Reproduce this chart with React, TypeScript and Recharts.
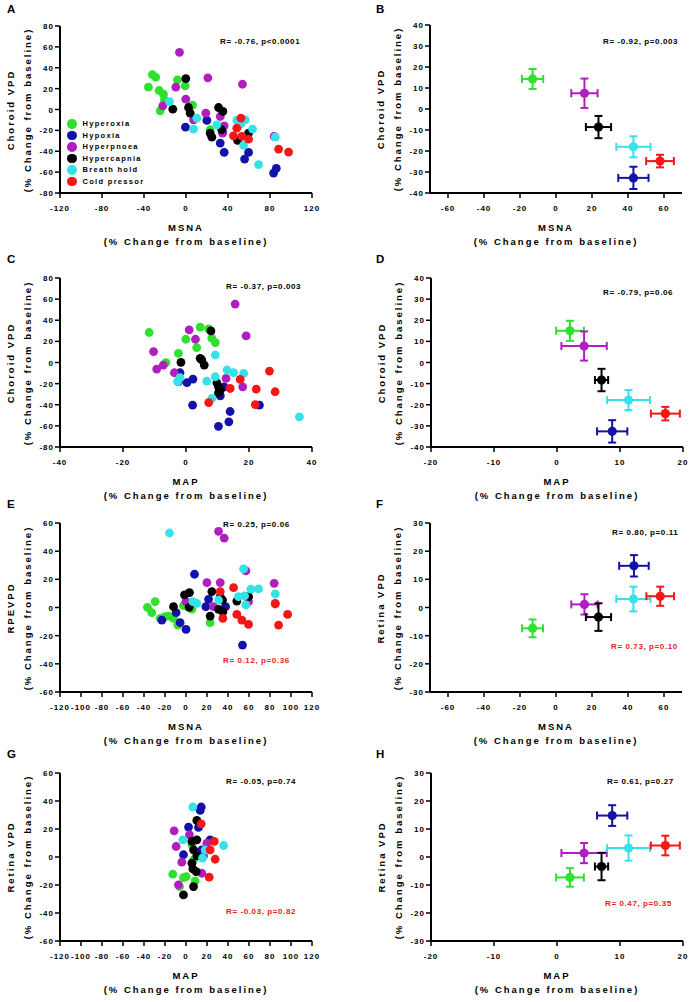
import React from 'react';
import { ScatterChart, Scatter, XAxis, YAxis, ErrorBar, Legend } from 'recharts';

const FONT = "Arial, 'Liberation Sans', sans-serif";

const conditions = ['Hyperoxia', 'Hypoxia', 'Hyperpnoea', 'Hypercapnia', 'Breath hold', 'Cold pressor'];
const colors = ['#2fe02f', '#1212a8', '#b11ec0', '#000000', '#35e2e8', '#f51616'];

// A: MSNA vs choroid VPD (individual)
const hyperoxiaA = [[-35.8, 21.4], [-32, 33.5], [-28.8, 30.9], [-25.6, 18.2], [-21.5, 14.6], [-24.6, -1.3], [-20.5, 9.2], [-8.1, 28.4], [-0.8, 22.6], [6.2, 4.1], [23, -19.4]];
const hypoxiaA = [[-0.5, -16.9], [19.9, -10.5], [35, -22], [32.6, -32.2], [36.4, -41.1], [55.8, -47.5], [59.6, -41.1], [83.4, -60.9], [86, -56.4]];
const hyperpnoeaA = [[-6.2, 54.8], [20.8, 30.3], [53.8, 24.2], [-9.7, 21.4], [-0.2, 9.9], [-22.1, 3.5], [18.9, -3.5], [32.6, -6.7], [34.8, -22.6], [7.2, -9.9], [36.4, -15.6], [84, -25.8]];
const hypercapniaA = [[-0.2, 29.6], [-12.6, 0.3], [2.4, 1.9], [4, -3.5], [31, 1.9], [35.1, -1.9], [34, -19.4], [23, -22.6], [24.6, -26.5], [49.1, -29.6], [59.6, -22.6]];
const breathHoldA = [[-15.7, 7.6], [10.3, -8.3], [7.2, -18.8], [29.4, -14.7], [48.4, -10.5], [56.4, -9.9], [52.3, -13.7], [63.4, -18.8], [54.8, -34.4], [69.1, -52.9], [85, -26.5]];
const coldPressorA = [[52.3, -8.3], [48.4, -17.9], [45.2, -25.2], [53.2, -25.8], [59.6, -28.4], [88.2, -37.9], [97.7, -40.8]];

// C: MAP vs choroid VPD (individual)
const hyperoxiaC = [[-11.7, 28.4], [4.5, 33.4], [7.2, 31.8], [8.2, 23], [9.3, 18.9], [-0.05, 22], [3.4, 14.1], [-2.4, 8.7], [-6.4, -0.2]];
const hypoxiaC = [[-1.9, -9.7], [-2.4, -18.2], [2.2, -15.7], [2.1, -40.4], [10.9, -31.5], [12.1, -23], [14, -46.4], [13.6, -56.2], [10.3, -60.4], [23.3, -40.4], [0.3, -19]];
const hyperpnoeaC = [[15.6, 55.3], [19.1, 25.2], [1, 30.9], [3, 22], [-10.3, 10.3], [-9.3, -6.2], [-7.2, -2.4], [-3.7, -9.7], [12.7, -15.1], [18, -23]];
const hypercapniaC = [[7.9, 29.9], [-1.6, 0.2], [5, 2.4], [5.8, -2.4], [9.8, -19.2], [10.3, -23], [10.3, -28.7], [10.9, -26.1], [4.5, 4]];
const breathHoldC = [[9.3, 7.1], [-2.7, -18.2], [-1.9, -14.4], [6.6, -17.6], [8.2, -34.1], [9.3, -13.5], [13, -7.1], [15.1, -9.7], [18.3, -10.3], [36, -51.5]];
const coldPressorC = [[7.2, -37.9], [14, -24.6], [17.2, -16], [26.5, -8.1], [22.3, -25.2], [28.3, -27.7], [22, -39.8]];

// E: MSNA vs RPEVPD (individual)
const hyperoxiaE = [[-36.7, 0.1], [-29.4, 4.2], [-32.6, -3.7], [-24.6, -7.7], [-19.9, -6.5], [-16.7, -6.1], [-11.9, -7.7], [-7.8, -12.5], [-2.4, 1.3], [5.6, -1.1], [23, -10.8]];
const hypoxiaE = [[8.1, 23.6], [21.5, 5.8], [18.9, 0.6], [32.6, 7.7], [37.7, 0.6], [0, -15.6], [-5.6, -10.8], [-9.4, -3.7], [-23, -8.9], [53.8, -26.7]];
const hyperpnoeaE = [[31, 54.1], [36.4, 49.3], [19.9, 17.7], [32.6, 17.7], [57, 26], [84, 17.2], [85, 3], [59.6, 4.2], [26.2, 0.6], [0, 4.2]];
const hypercapniaE = [[-11.9, 0.6], [-1.4, 8.9], [3.3, 10.6], [3, 0.1], [24.6, 11.3], [23, -6.1], [31, -1.3], [35.1, -3], [34.8, 5.3], [48.4, 4.6], [59.6, 7.7]];
const breathHoldE = [[-15.7, 52.9], [54.8, 27.4], [61.8, 13], [69.1, 13.2], [85, 9.6], [50, 7.7], [55.8, 8.2], [57, 1.8], [10.3, 3], [6.5, 4.2], [31, 5.3]];
const coldPressorE = [[45.3, 14.1], [32.6, 11.3], [35.1, -7.7], [48.4, -4.9], [53.2, -8.9], [59.6, -12], [88.2, -12.5], [96.8, -4.9], [85, 2.5]];

// G: MAP vs retina VPD (individual)
const hyperoxiaG = [[-12.6, -12.3], [-2.4, -14.7], [0.2, -14], [8.7, -17.1], [-6.2, -21.1], [5.6, 8.7], [7.2, -2]];
const hypoxiaG = [[14.5, 35.7], [13.5, 33.3], [2.4, 21.4], [11.9, 21.1], [23, 12.3], [-2.4, 1.6], [15.1, 5.1]];
const hyperpnoeaG = [[-11.3, 18.7], [3.3, 15.9], [-9.4, 7.5], [-4, -3.7], [19.9, 9.9], [16.7, 0.8], [15.1, -11.6], [-7.2, -19.9]];
const hypercapniaG = [[10.3, 26.1], [10.3, 12.3], [5.6, 11.1], [7.2, 5.1], [10.3, 0.8], [5.6, -4.4], [6.5, -8.5], [9.7, -10.4], [7.2, -21.1], [-2.4, -27.1]];
const breathHoldG = [[6.5, 35.7], [-3, 12.3], [35.8, 8.2], [18.3, 5.1], [15.7, -0.8]];
const coldPressorG = [[14.5, 23.7], [26.9, 11.1], [23, 5.1], [27.8, -1.6], [22.1, -14.4]];

// group means +/- SEM, order = conditions
const msnaMeanB = [-13, 43, 15.8, 23.6, 43, 57.8];
const msnaErrB = [5.9, 8.4, 7.3, 7, 9.5, 7.7];
const choroidMeanB = [14.3, -32.8, 7.5, -8.6, -18, -24.8];
const choroidErrB = [4.75, 5.3, 7, 5.3, 5, 3];

const mapMeanD = [2.06, 8.76, 4.3, 7.07, 11.35, 17.2];
const mapErrD = [2.2, 2.4, 3.6, 1.05, 3.4, 2.3];
const choroidMeanD = [15, -32.6, 7.8, -8.3, -17.8, -24.2];
const choroidErrD = [4.75, 5.3, 6.9, 5.3, 4.75, 3.2];

const msnaMeanF = [-13, 43.3, 15.8, 23.6, 43, 57.9];
const msnaErrF = [5.8, 8.2, 7.3, 7, 9.5, 7.7];
const retinaMeanF = [-7.4, 14.8, 1.1, -3.4, 3.0, 4.0];
const retinaErrF = [3.15, 3.8, 3.6, 4.9, 4.4, 3.4];

const mapMeanH = [2.06, 8.76, 4.3, 7.07, 11.35, 17.2];
const mapErrH = [2.2, 2.4, 3.6, 1.05, 3.4, 2.3];
const retinaMeanH = [-7.3, 14.8, 1.4, -3.4, 3.2, 4.1];
const retinaErrH = [3.3, 3.7, 3.6, 4.9, 4.5, 3.5];

const ticksMsnaWide = [-120, -80, -40, 0, 40, 80, 120];
const ticksEvery20 = [-120, -100, -80, -60, -40, -20, 0, 20, 40, 60, 80, 100, 120];
const ticksMsnaMean = [-60, -40, -20, 0, 20, 40, 60];
const ticksMap = [-40, -20, 0, 20, 40];
const ticksMapMean = [-20, -10, 0, 10, 20];
const ticksY80 = [-80, -60, -40, -20, 0, 20, 40, 60, 80];
const ticksY60 = [-60, -40, -20, 0, 20, 40, 60];
const ticksY40 = [-40, -30, -20, -10, 0, 10, 20, 30, 40];
const ticksY30 = [-30, -20, -10, 0, 10, 20, 30];

type Pt = { x: number; y: number; ex?: number; ey?: number };

const pairs = (arr: number[][]): Pt[] => arr.map(([x, y]) => ({ x, y }));
const means = (mx: number[], ex: number[], my: number[], ey: number[]): Pt[][] =>
  mx.map((v, i) => [{ x: v, y: my[i], ex: ex[i], ey: ey[i] }]);

const XTick = (props: any) => (
  <text x={props.x} y={props.y} dy={11} textAnchor="middle" fontSize={8} fontWeight="bold"
    letterSpacing={1} fill="#000" fontFamily={FONT}>{props.payload.value}</text>
);

const YTick = (props: any) => (
  <text x={props.x} y={props.y} dy={3} textAnchor="end" fontSize={8} fontWeight="bold"
    letterSpacing={1} fill="#000" fontFamily={FONT}>{props.payload.value}</text>
);

const renderLegend = (props: any) => {
  const items = [...(props.payload || [])].sort(
    (a: any, b: any) => conditions.indexOf(a.value) - conditions.indexOf(b.value),
  );
  return (
    <div style={{ fontFamily: FONT }}>
      {items.map((entry: any) => (
        <div key={entry.value} style={{ display: 'flex', alignItems: 'center', height: 11.5 }}>
          <span style={{ display: 'inline-block', width: 9.5, height: 9.5, borderRadius: '50%', background: entry.color, marginRight: 6 }} />
          <span style={{ fontSize: 7.5, fontWeight: 'bold', letterSpacing: 1.3, color: '#000' }}>{entry.value}</span>
        </div>
      ))}
    </div>
  );
};

interface PanelProps {
  left: number;
  top: number;
  w: number;
  h: number;
  xDomain: [number, number];
  xTicks: number[];
  yDomain: [number, number];
  yTicks: number[];
  series: Pt[][];
  errors?: boolean;
  legend?: boolean;
}

const Panel = ({ left, top, w, h, xDomain, xTicks, yDomain, yTicks, series, errors, legend }: PanelProps) => (
  <div style={{ position: 'absolute', left: left - 55, top: top - 10 }}>
    <ScatterChart width={w + 70} height={h + 40} margin={{ top: 10, right: 15, bottom: 0, left: 5 }}>
      <XAxis type="number" dataKey="x" domain={xDomain} ticks={xTicks} interval={0} height={30}
        axisLine={{ stroke: '#000', strokeWidth: 2 }} tickLine={{ stroke: '#000', strokeWidth: 1.5 }}
        tickSize={5} tickMargin={2} tick={(p: any) => <XTick {...p} />} />
      <YAxis type="number" dataKey="y" domain={yDomain} ticks={yTicks} interval={0} width={50}
        axisLine={{ stroke: '#000', strokeWidth: 2 }} tickLine={{ stroke: '#000', strokeWidth: 1.5 }}
        tickSize={5} tickMargin={1} tick={(p: any) => <YTick {...p} />} />
      {series.map((pts, i) => (
        <Scatter key={conditions[i]} name={conditions[i]} data={pts} fill={colors[i]} isAnimationActive={false}
          shape={(p: any) => <circle cx={p.cx} cy={p.cy} r={errors ? 4.6 : 4.4} fill={colors[i]} />}>
          {errors && <ErrorBar dataKey="ex" direction="x" width={4} strokeWidth={2} stroke={colors[i]} />}
          {errors && <ErrorBar dataKey="ey" direction="y" width={4} strokeWidth={2} stroke={colors[i]} />}
        </Scatter>
      ))}
      {legend && (
        <Legend layout="vertical" align="center" verticalAlign="middle" content={renderLegend}
          wrapperStyle={{ left: 62, top: 102, width: 120 }} />
      )}
    </ScatterChart>
  </div>
);

const Title = ({ cx, cy, text, rotate }: { cx: number; cy: number; text: string; rotate?: boolean }) => (
  <div style={{
    position: 'absolute', left: cx - 150, top: cy - 7, width: 300, height: 14, lineHeight: '14px',
    textAlign: 'center', fontSize: 9.5, fontWeight: 'bold', letterSpacing: 2, color: '#000',
    fontFamily: FONT, whiteSpace: 'nowrap', transform: rotate ? 'rotate(-90deg)' : undefined,
  }}>{text}</div>
);

const Stat = ({ x, cy, text, red }: { x: number; cy: number; text: string; red?: boolean }) => (
  <div style={{
    position: 'absolute', left: x, top: cy - 5, lineHeight: '10px', fontSize: 8, fontWeight: 'bold',
    letterSpacing: 0.6, color: red ? '#e52222' : '#000', fontFamily: FONT, whiteSpace: 'nowrap',
  }}>{text}</div>
);

const Letter = ({ x, y, text }: { x: number; y: number; text: string }) => (
  <div style={{
    position: 'absolute', left: x, top: y - 2, lineHeight: '12px', fontSize: 11.5, fontWeight: 'bold',
    color: '#000', fontFamily: FONT,
  }}>{text}</div>
);

const Titles = ({ left, top, w, h, xTitle, yTitle }: { left: number; top: number; w: number; h: number; xTitle: string; yTitle: string }) => (
  <>
    <Title cx={left + w / 2} cy={top + h + 35} text={xTitle} />
    <Title cx={left + w / 2} cy={top + h + 49} text="(% Change from baseline)" />
    <Title cx={left - 49} cy={top + h / 2} text={yTitle} rotate />
    <Title cx={left - 32} cy={top + h / 2} text="(% Change from baseline)" rotate />
  </>
);

const seriesA = [hyperoxiaA, hypoxiaA, hyperpnoeaA, hypercapniaA, breathHoldA, coldPressorA].map(pairs);
const seriesC = [hyperoxiaC, hypoxiaC, hyperpnoeaC, hypercapniaC, breathHoldC, coldPressorC].map(pairs);
const seriesE = [hyperoxiaE, hypoxiaE, hyperpnoeaE, hypercapniaE, breathHoldE, coldPressorE].map(pairs);
const seriesG = [hyperoxiaG, hypoxiaG, hyperpnoeaG, hypercapniaG, breathHoldG, coldPressorG].map(pairs);

export default function App() {
  return (
    <div style={{ position: 'absolute', left: 0, top: 0, width: 694, height: 1002, background: '#fff', overflow: 'hidden' }}>
      {/* A */}
      <Panel left={60} top={26} w={252} h={167} xDomain={[-120, 120]} xTicks={ticksMsnaWide}
        yDomain={[-80, 80]} yTicks={ticksY80} series={seriesA} legend />
      <Titles left={60} top={26} w={252} h={167} xTitle="MSNA" yTitle="Choroid VPD" />
      <Stat x={220} cy={42} text="R= -0.76, p<0.0001" />
      <Letter x={7} y={5} text="A" />

      {/* B */}
      <Panel left={430} top={25} w={252} h={168} xDomain={[-70, 70]} xTicks={ticksMsnaMean}
        yDomain={[-40, 40]} yTicks={ticksY40} series={means(msnaMeanB, msnaErrB, choroidMeanB, choroidErrB)} errors />
      <Titles left={430} top={25} w={252} h={168} xTitle="MSNA" yTitle="Choroid VPD" />
      <Stat x={603} cy={42} text="R= -0.92, p=0.003" />
      <Letter x={376} y={5} text="B" />

      {/* C */}
      <Panel left={60} top={278} w={252} h={169} xDomain={[-40, 40]} xTicks={ticksMap}
        yDomain={[-80, 80]} yTicks={ticksY80} series={seriesC} />
      <Titles left={60} top={278} w={252} h={169} xTitle="MAP" yTitle="Choroid VPD" />
      <Stat x={226} cy={287} text="R= -0.37, p=0.003" />
      <Letter x={7} y={255} text="C" />

      {/* D */}
      <Panel left={431} top={278} w={252} h={169} xDomain={[-20, 20]} xTicks={ticksMapMean}
        yDomain={[-40, 40]} yTicks={ticksY40} series={means(mapMeanD, mapErrD, choroidMeanD, choroidErrD)} errors />
      <Titles left={431} top={278} w={252} h={169} xTitle="MAP" yTitle="Choroid VPD" />
      <Stat x={603} cy={293} text="R= -0.79, p=0.06" />
      <Letter x={376} y={255} text="D" />

      {/* E */}
      <Panel left={60} top={523} w={252} h={169} xDomain={[-120, 120]} xTicks={ticksEvery20}
        yDomain={[-60, 60]} yTicks={ticksY60} series={seriesE} />
      <Titles left={60} top={523} w={252} h={169} xTitle="MSNA" yTitle="RPEVPD" />
      <Stat x={223} cy={525} text="R= 0.25, p=0.06" />
      <Stat x={223} cy={661} text="R= 0.12, p=0.36" red />
      <Letter x={7} y={500} text="E" />

      {/* F */}
      <Panel left={430} top={523} w={252} h={169} xDomain={[-70, 70]} xTicks={ticksMsnaMean}
        yDomain={[-30, 30]} yTicks={ticksY30} series={means(msnaMeanF, msnaErrF, retinaMeanF, retinaErrF)} errors />
      <Titles left={430} top={523} w={252} h={169} xTitle="MSNA" yTitle="Retina VPD" />
      <Stat x={612} cy={533} text="R= 0.80, p=0.11" />
      <Stat x={611} cy={647} text="R= 0.73, p=0.10" red />
      <Letter x={376} y={500} text="F" />

      {/* G */}
      <Panel left={60} top={773} w={252} h={168} xDomain={[-120, 120]} xTicks={ticksEvery20}
        yDomain={[-60, 60]} yTicks={ticksY60} series={seriesG} />
      <Titles left={60} top={773} w={252} h={168} xTitle="MAP" yTitle="Retina VPD" />
      <Stat x={226} cy={782} text="R= -0.05, p=0.74" />
      <Stat x={226} cy={912} text="R= -0.03, p=0.82" red />
      <Letter x={7} y={750} text="G" />

      {/* H */}
      <Panel left={431} top={773} w={252} h={168} xDomain={[-20, 20]} xTicks={ticksMapMean}
        yDomain={[-30, 30]} yTicks={ticksY30} series={means(mapMeanH, mapErrH, retinaMeanH, retinaErrH)} errors />
      <Titles left={431} top={773} w={252} h={168} xTitle="MAP" yTitle="Retina VPD" />
      <Stat x={607} cy={782} text="R= 0.61, p=0.27" />
      <Stat x={605} cy={904} text="R= 0.47, p=0.35" red />
      <Letter x={376} y={750} text="H" />
    </div>
  );
}
